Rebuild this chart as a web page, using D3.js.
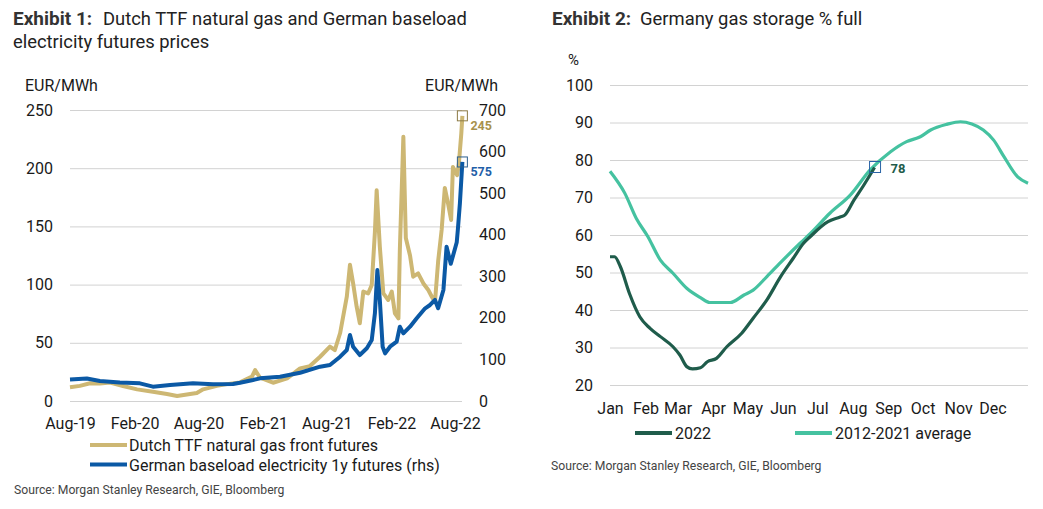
<!DOCTYPE html>
<html>
<head>
<meta charset="utf-8">
<script src="https://cdn.jsdelivr.net/npm/d3@7"></script>
<style>
  body { margin: 0; background: #fff; }
  svg { font-family: Roboto, "Liberation Sans", sans-serif; }
</style>
</head>
<body>
<svg id="chart" width="1043" height="509"></svg>
<script>
// Exhibit 1 data
const gasDates = ['2019-08-01','2019-08-29','2019-09-27','2019-10-25','2019-11-23','2019-12-30','2020-02-08','2020-03-24',
  '2020-05-03','2020-06-01','2020-07-08','2020-07-27','2020-08-14','2020-09-22','2020-10-21','2020-11-27','2020-12-31',
  '2021-01-09','2021-01-23','2021-03-01','2021-04-10','2021-05-17','2021-06-14','2021-07-13','2021-08-10','2021-08-24',
  '2021-09-08','2021-09-27','2021-10-06','2021-10-15','2021-10-25','2021-11-03','2021-11-13','2021-11-27','2021-12-07',
  '2021-12-16','2021-12-21','2021-12-30','2022-01-09','2022-01-23','2022-02-02','2022-02-11','2022-02-21','2022-02-25',
  '2022-03-07','2022-03-14','2022-03-26','2022-04-04','2022-04-18','2022-05-03','2022-05-17','2022-05-27','2022-06-05',
  '2022-06-14','2022-06-24','2022-07-03','2022-07-12','2022-07-21','2022-07-26','2022-08-07','2022-08-12','2022-08-19',
  '2022-08-22'];
const gasValues = [11.8,13,15.2,15,15.8,12.9,10,8,
  6,4.3,6,6.9,10,13,14.5,16,21,
  26.5,20,15.7,19.5,28,30,38,46.7,43.8,
  58.4,89.6,117,101,81,66.8,94,92.5,99.7,
  145,181,132.6,92.5,86.8,94,75.3,71,130,
  227,140,125,106.8,109.6,101,95.4,89.6,85,
  120,147,183,170,155.5,201,194,204,230,
  245];

const powerDates = ['2019-08-01','2019-09-18','2019-10-25','2019-12-21','2020-02-16','2020-03-24','2020-05-12','2020-07-16',
  '2020-09-11','2020-11-07','2020-11-27','2021-01-03','2021-01-23','2021-03-21','2021-05-17','2021-07-13','2021-08-10',
  '2021-09-08','2021-09-27','2021-10-06','2021-10-15','2021-11-03','2021-11-23','2021-12-07','2021-12-16','2021-12-23',
  '2021-12-30','2022-01-07','2022-01-14','2022-01-28','2022-02-16','2022-02-25','2022-03-07','2022-03-26','2022-04-14',
  '2022-05-08','2022-05-22','2022-06-05','2022-06-14','2022-06-29','2022-07-08','2022-07-20','2022-08-06','2022-08-09',
  '2022-08-15','2022-08-22'];
const powerValues = [52,54,48,44.5,42.5,34.5,38.5,42.5,
  40,41,44,50.5,54.5,58.5,68,82.5,86.6,
  106.6,122.7,158.8,130.6,110.6,126.8,146.7,211,315,
  243,130.6,114.6,130.6,142.7,178.8,162.8,178.8,199,
  223,231,243,223,267,371,330,382,411,
  476,575];

const dateTicks = ['2019-08-01','2020-02-01','2020-08-01','2021-02-01','2021-08-01','2022-02-01','2022-08-01'];
const gasTicks = [0, 50, 100, 150, 200, 250];
const powerTicks = [0, 100, 200, 300, 400, 500, 600, 700];

// Exhibit 2 data: day of year and % full
const avgDays = [0,13,23,33,44,55,67,79,87,105,117,125,137,151,166,175,192,210,227,245,259,271,280,294,306,316,326,335,344,356,365];
const avgValues = [77,71.1,64.4,59.6,53.3,49.8,45.8,43.3,42,42,44,45.3,48.9,53.3,57.8,60.4,65.8,70.7,77.3,82.2,84.9,86.2,88,89.5,90.2,89.6,88,85.3,80.9,75.5,73.8];
const y2022Days = [0,4,9,17,26,35,44,55,61,67,72,79,85,93,102,115,125,137,149,160,169,175,190,201,205,213,221,231];
const y2022Values = [54.2,54.2,51.6,44.4,38.2,35.1,32.9,30.2,28,24.9,24.3,24.6,26.2,27.1,30.2,33.8,37.8,42.7,48.9,53.8,57.8,59.6,63.5,64.8,65.3,69.3,73,78];

const monthNames = ['Jan','Feb','Mar','Apr','May','Jun','Jul','Aug','Sep','Oct','Nov','Dec'];
const monthStarts = [0,31,59,90,120,151,181,212,243,273,304,334];
const storageTicks = [20,30,40,50,60,70,80,90,100];

const gold = '#cdb773';
const blue = '#0b59a5';
const dark = '#1f5c4b';
const teal = '#45c2a0';
const grid = '#d2d2d2';
const ink = '#1a1a1a';

const svg = d3.select('#chart');
const parse = d3.timeParse('%Y-%m-%d');

function styleAxis(g) {
  g.select('.domain').remove();
  g.selectAll('.tick line').attr('stroke', grid);
  g.selectAll('.tick text').attr('fill', ink).style('font-size', '16px')
    .style('font-family', 'Roboto, sans-serif');
}

function title(x, y, bold, rest, restX) {
  svg.append('text').attr('x', x).attr('y', y)
    .attr('fill', '#333').style('font-size', '19px').style('font-weight', 700).text(bold);
  svg.append('text').attr('x', restX).attr('y', y)
    .attr('fill', '#222').style('font-size', '18.4px').text(rest);
}

// ---------- Exhibit 1 ----------
const x1 = d3.scaleTime().domain([parse('2019-08-01'), parse('2022-08-01')]).range([70, 455]);
const yGas = d3.scaleLinear().domain([0, 250]).range([401, 110]);
const yPow = d3.scaleLinear().domain([0, 700]).range([401, 110]);

title(13, 25, 'Exhibit 1:', 'Dutch TTF natural gas and German baseload', 103);
svg.append('text').attr('x', 13).attr('y', 48).attr('fill', '#222').style('font-size', '18.4px')
  .text('electricity futures prices');

svg.append('g').attr('transform', 'translate(70,0)')
  .call(d3.axisLeft(yGas).tickValues(gasTicks).tickSize(-392).tickPadding(17))
  .call(styleAxis);
svg.append('g').attr('transform', 'translate(462,0)')
  .call(d3.axisRight(yPow).tickValues(powerTicks).tickSize(0).tickPadding(17))
  .call(styleAxis);
svg.append('g').attr('transform', 'translate(0,401)')
  .call(d3.axisBottom(x1).tickValues(dateTicks.map(parse)).tickFormat(d3.timeFormat('%b-%y'))
    .tickSize(0).tickPadding(17))
  .call(styleAxis);

svg.append('text').attr('x', 25).attr('y', 91).attr('fill', ink).style('font-size', '16px').text('EUR/MWh');
svg.append('text').attr('x', 498).attr('y', 91).attr('text-anchor', 'end').attr('fill', ink)
  .style('font-size', '16px').text('EUR/MWh');

const gasLine = d3.line().x((d, i) => x1(parse(gasDates[i]))).y(d => yGas(d));
const powLine = d3.line().x((d, i) => x1(parse(powerDates[i]))).y(d => yPow(d));

svg.append('path').datum(gasValues).attr('d', gasLine)
  .attr('fill', 'none').attr('stroke', gold).attr('stroke-width', 4).attr('stroke-linejoin', 'round');
svg.append('path').datum(powerValues).attr('d', powLine)
  .attr('fill', 'none').attr('stroke', blue).attr('stroke-width', 4).attr('stroke-linejoin', 'round');

const gEnd = gasValues.length - 1;
const pEnd = powerValues.length - 1;
svg.append('rect')
  .attr('x', x1(parse(gasDates[gEnd])) - 5).attr('y', yGas(gasValues[gEnd]) - 5)
  .attr('width', 10).attr('height', 10).attr('fill', 'none').attr('stroke', '#8c7a45');
svg.append('text').attr('x', x1(parse(gasDates[gEnd])) + 8).attr('y', yGas(gasValues[gEnd]) + 14)
  .attr('fill', '#a8914c').style('font-size', '12.5px').style('font-weight', 700).text(gasValues[gEnd]);
svg.append('rect')
  .attr('x', x1(parse(powerDates[pEnd])) - 5).attr('y', yPow(powerValues[pEnd]) - 5)
  .attr('width', 10).attr('height', 10).attr('fill', 'none').attr('stroke', '#2c5f8e');
svg.append('text').attr('x', x1(parse(powerDates[pEnd])) + 8).attr('y', yPow(powerValues[pEnd]) + 14)
  .attr('fill', '#1f60a8').style('font-size', '12.5px').style('font-weight', 700).text(powerValues[pEnd]);

const legend1 = [
  { label: 'Dutch TTF natural gas front futures', color: gold },
  { label: 'German baseload electricity 1y futures (rhs)', color: blue }
];
legend1.forEach((d, i) => {
  const y = 445 + i * 19.5;
  svg.append('line').attr('x1', 90).attr('x2', 127).attr('y1', y).attr('y2', y)
    .attr('stroke', d.color).attr('stroke-width', 4);
  svg.append('text').attr('x', 129).attr('y', y + 6).attr('fill', ink).style('font-size', '16px').text(d.label);
});

svg.append('text').attr('x', 14).attr('y', 494).attr('fill', '#444').style('font-size', '12.2px')
  .text('Source: Morgan Stanley Research, GIE, Bloomberg');

// ---------- Exhibit 2 ----------
const x2 = d3.scaleLinear().domain([0, 365]).range([610, 1028]);
const y2 = d3.scaleLinear().domain([20, 100]).range([385, 85]);

title(552, 25, 'Exhibit 2:', 'Germany gas storage % full', 640);

svg.append('g').attr('transform', 'translate(610,0)')
  .call(d3.axisLeft(y2).tickValues(storageTicks).tickSize(-418).tickPadding(17))
  .call(styleAxis);
svg.append('g').attr('transform', 'translate(0,385)')
  .call(d3.axisBottom(x2).tickValues(monthStarts).tickFormat((d, i) => monthNames[i])
    .tickSize(0).tickPadding(18))
  .call(styleAxis);

svg.append('text').attr('x', 568).attr('y', 65).attr('fill', ink).style('font-size', '15px').text('%');

const avgLine = d3.line().x((d, i) => x2(avgDays[i])).y(d => y2(d)).curve(d3.curveMonotoneX);
const curLine = d3.line().x((d, i) => x2(y2022Days[i])).y(d => y2(d)).curve(d3.curveMonotoneX);

svg.append('path').datum(avgValues).attr('d', avgLine)
  .attr('fill', 'none').attr('stroke', teal).attr('stroke-width', 3.2);
svg.append('path').datum(y2022Values).attr('d', curLine)
  .attr('fill', 'none').attr('stroke', dark).attr('stroke-width', 3.2);

const cEnd = y2022Values.length - 1;
svg.append('rect')
  .attr('x', x2(y2022Days[cEnd]) - 5).attr('y', y2(y2022Values[cEnd]) - 6)
  .attr('width', 11).attr('height', 11).attr('fill', 'none').attr('stroke', '#2a64a6');
svg.append('text').attr('x', x2(y2022Days[cEnd]) + 16).attr('y', y2(y2022Values[cEnd]) + 5)
  .attr('fill', dark).style('font-size', '13px').style('font-weight', 700).text(y2022Values[cEnd]);

const legend2 = [
  { label: '2022', color: dark, x: 635 },
  { label: '2012-2021 average', color: teal, x: 795 }
];
legend2.forEach(d => {
  svg.append('line').attr('x1', d.x).attr('x2', d.x + 37).attr('y1', 433).attr('y2', 433)
    .attr('stroke', d.color).attr('stroke-width', 4);
  svg.append('text').attr('x', d.x + 40).attr('y', 439).attr('fill', ink).style('font-size', '16px').text(d.label);
});

svg.append('text').attr('x', 551).attr('y', 470).attr('fill', '#444').style('font-size', '12.2px')
  .text('Source: Morgan Stanley Research, GIE, Bloomberg');
</script>
</body>
</html>
